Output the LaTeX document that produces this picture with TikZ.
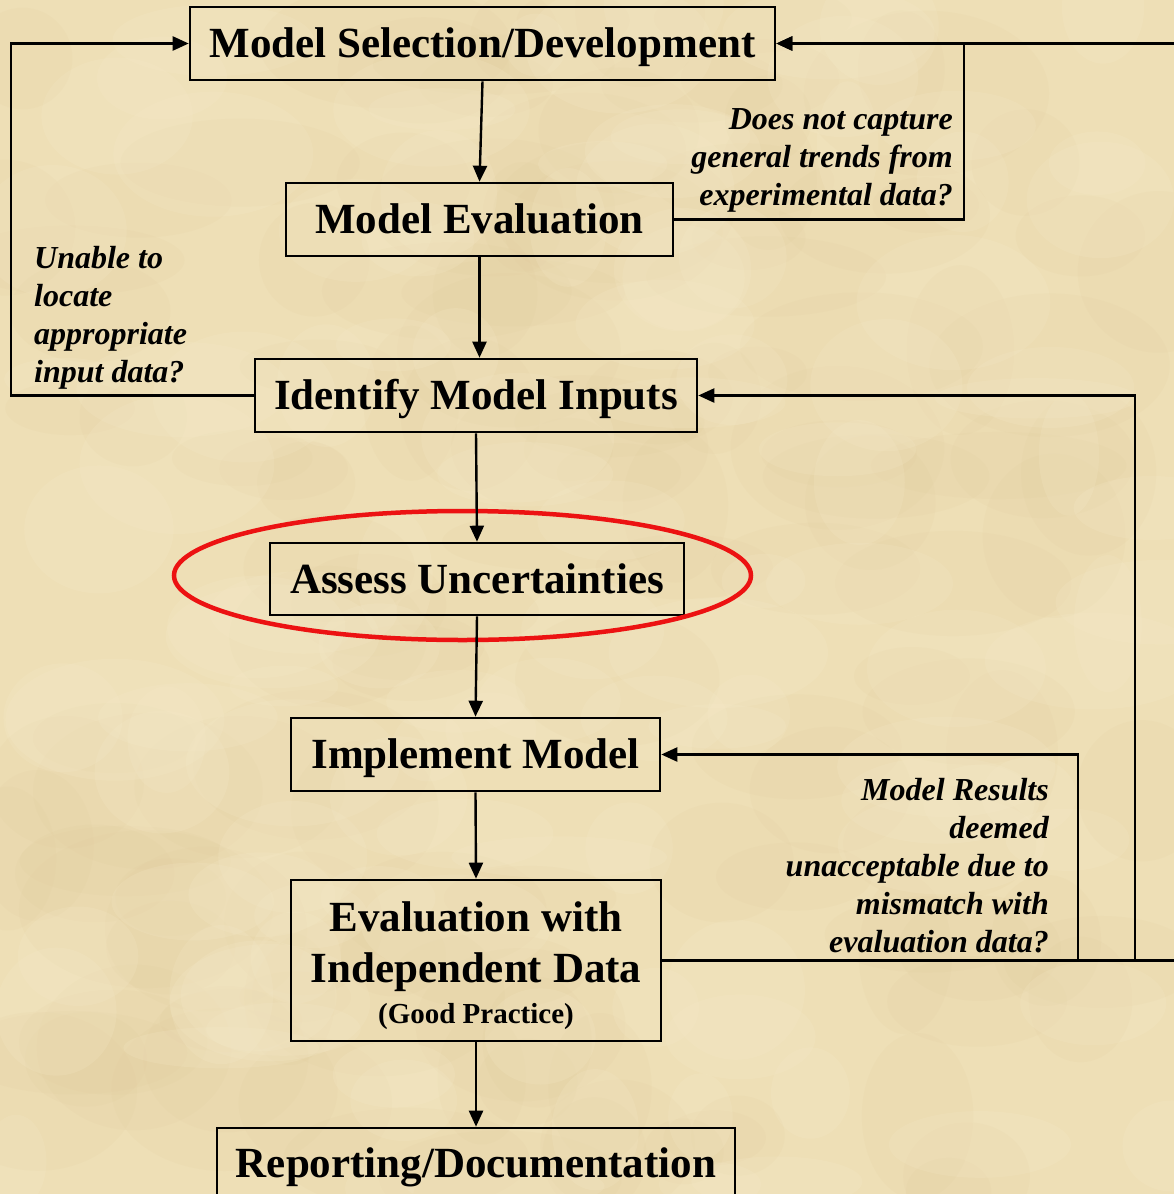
\documentclass[tikz,border=0pt]{standalone}
\usepackage{fontspec}
\setmainfont{Liberation Serif}
\usetikzlibrary{arrows.meta,shapes.geometric}
\definecolor{parch}{RGB}{238,223,182}
\definecolor{parchD}{RGB}{222,198,150}
\definecolor{parchL}{RGB}{247,236,205}
\definecolor{hired}{RGB}{236,18,18}
\begin{document}
\begin{tikzpicture}[x=1pt,y=-1pt,
  boxframe/.style={draw=black,line width=2.6pt,inner sep=0pt},
  box/.style={boxframe,font=\fontsize{43}{51}\selectfont\bfseries,
    text height=28.5pt,text depth=0pt},
  boxtext/.style={inner sep=0pt,align=center,font=\fontsize{43}{51}\selectfont\bfseries},
  conn/.style={line width=2.4pt,-{Triangle[length=16pt,width=14pt]}},
  lbl/.style={inner sep=0pt,font=\fontsize{32}{38}\selectfont\bfseries\itshape}]
\useasboundingbox (0,0) rectangle (1174,1194);
\clip (0,0) rectangle (1174,1194);
\fill[parch] (0,0) rectangle (1174,1194);
% parchment mottling
\pgfmathsetseed{7}
\foreach \i in {1,...,140}{
  \pgfmathsetmacro{\px}{rnd*1174}
  \pgfmathsetmacro{\py}{rnd*1194}
  \pgfmathsetmacro{\rx}{40+rnd*90}
  \pgfmathsetmacro{\ry}{25+rnd*60}
  \fill[parchD,opacity=0.10] (\px,\py) ellipse [x radius=\rx, y radius=\ry];
}
\foreach \i in {1,...,120}{
  \pgfmathsetmacro{\px}{rnd*1174}
  \pgfmathsetmacro{\py}{rnd*1194}
  \pgfmathsetmacro{\rx}{30+rnd*80}
  \pgfmathsetmacro{\ry}{20+rnd*50}
  \fill[parchL,opacity=0.18] (\px,\py) ellipse [x radius=\rx, y radius=\ry];
}

% boxes
\node[box,minimum width=585pt,minimum height=73pt] (msd) at (482.5,43.5) {Model Selection/Development};
\node[box,minimum width=387pt,minimum height=73pt] (me) at (479.5,219.5) {Model Evaluation};
\node[box,minimum width=442pt,minimum height=73pt] (imi) at (476,395.5) {Identify Model Inputs};
\node[box,minimum width=414pt,minimum height=72pt] (au) at (477,579) {Assess Uncertainties};
\node[box,minimum width=369pt,minimum height=73pt] (im) at (475.5,754.5) {Implement Model};
\node[boxframe,minimum width=370pt,minimum height=161pt] (eid) at (476,960.5) {};
\node[boxtext] (eidtext) at (476,966)
  {Evaluation with\\Independent Data\\[-10pt]{\fontsize{29}{32}\selectfont (Good Practice)}};
\node[box,minimum width=518pt,minimum height=70pt] (rd) at (476,1163) {Reporting/Documentation};

% highlight ring
\node[draw=hired,line width=4.5pt,ellipse,inner sep=0pt,minimum width=577pt,minimum height=129pt] (ring) at (462.5,575.5) {};

% labels
\node[lbl,align=right,anchor=north east] (lblA) at (953,108)
  {Does not capture\\general trends from\\experimental data?};
\node[lbl,align=left,anchor=north west] (lblB) at (34,246)
  {Unable to\\locate\\appropriate\\input data?};
\node[lbl,align=right,anchor=north east] (lblC) at (1049,778)
  {Model Results\\deemed\\unacceptable due to\\mismatch with\\evaluation data?};

% helper coordinates
\coordinate (lft) at (11,0);
\coordinate (rA) at (964,0);
\coordinate (rC) at (1078,0);
\coordinate (rB) at (1135,0);
\coordinate (edge) at (1200,0);

% main flow
\draw[conn] (msd.south) -- (me.north);
\draw[conn] (me.south) -- (me.south |- imi.north);
\draw[conn] (imi.south) -- (au.north);
\draw[conn] (au.south) -- (im.north);
\draw[conn] (im.south) -- (eid.north);
\draw[conn] (eid.south) -- (rd.north);

% feedback loops
\draw[conn] (imi.west) -- (imi.west -| lft) |- (msd.west);
\draw[conn] (me.east) -| (msd.east -| rA) -- (msd.east);
\draw[conn] (eid.east) -- (eid.east -| edge) -- (msd.east -| edge) -- (msd.east);
\draw[conn] (eid.east -| rB) |- (imi.east);
\draw[conn] (eid.east -| rC) |- (im.east);
\end{tikzpicture}
\end{document}
